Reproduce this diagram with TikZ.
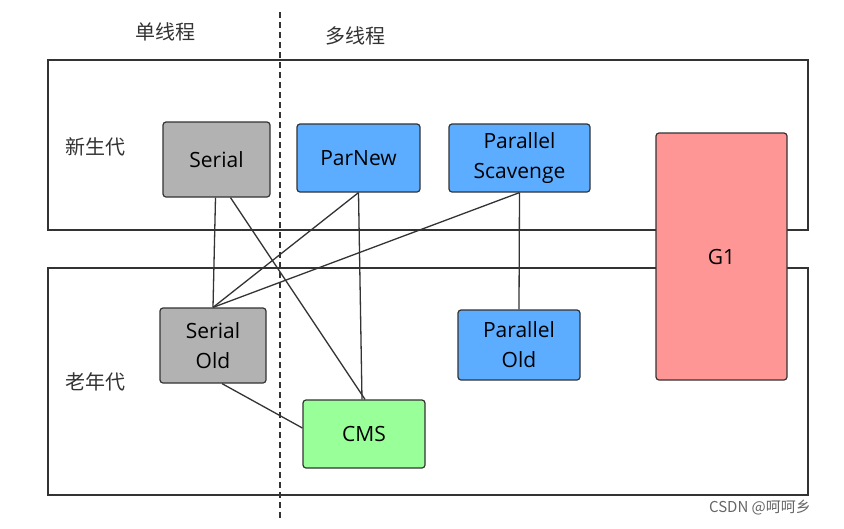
\documentclass[tikz,border=0pt]{standalone}
\usepackage{fontspec}
\setmainfont{Open Sans}
\newfontfamily\cjk{Noto Sans CJK SC}
\begin{document}
\begin{tikzpicture}[x=1pt,y=-1pt,
 box/.style={draw=black!80,line width=1.2pt,rounded corners=3pt,font=\fontsize{21}{30}\selectfont,align=center,inner sep=0pt},
 lbl/.style={font=\cjk\fontsize{20}{22}\selectfont,text=black!80},
 ln/.style={draw=black!80,line width=1.3pt}]
\useasboundingbox (0,0) rectangle (844,528);
\draw[ln] (48,60) rectangle (808,230);
\draw[ln] (48,268) rectangle (808,495);
\draw[ln,dash pattern=on 6pt off 4pt,line width=1.2pt] (280,12) -- (280,520);
\node[lbl] (t1) at (165,32) {单线程};
\node[lbl] (t2) at (355,36) {多线程};
\node[lbl] (t3) at (95,147) {新生代};
\node[lbl] (t4) at (95,382) {老年代};
\node[box,fill=black!30,minimum width=107,minimum height=75] (serial) at (216.5,159.5) {Serial};
\node[box,fill={rgb,255:red,92;green,173;blue,255},minimum width=123,minimum height=68] (parnew) at (358.5,158) {ParNew};
\node[box,fill={rgb,255:red,92;green,173;blue,255},minimum width=141,minimum height=68] (ps) at (519.5,158) {Parallel\\Scavenge};
\node[box,fill={rgb,255:red,255;green,150;blue,150},minimum width=131,minimum height=247] (g1) at (721.5,256.5) {G1};
\node[box,fill=black!30,minimum width=106,minimum height=75] (so) at (213,345.5) {Serial\\Old};
\node[box,fill={rgb,255:red,92;green,173;blue,255},minimum width=122,minimum height=70] (po) at (519,345) {Parallel\\Old};
\node[box,fill={rgb,255:red,153;green,255;blue,153},minimum width=122,minimum height=68] (cms) at (364,434) {CMS};
\draw[ln] ([xshift=-1]serial.south) -- (so.north);
\draw[ln] ([xshift=14]serial.south) -- ([xshift=1]cms.north);
\draw[ln] (parnew.south) -- (so.north);
\draw[ln] (parnew.south) -- ([xshift=-2]cms.north);
\draw[ln] (ps.south) -- (so.north);
\draw[ln] (ps.south) -- (po.north);
\draw[ln] ([xshift=9]so.south) -- ([yshift=6]cms.west);
\node[font=\cjk\fontsize{15}{16}\selectfont,text=black!60] (wm) at (760,508) {CSDN @呵呵乡};
\end{tikzpicture}
\end{document}
